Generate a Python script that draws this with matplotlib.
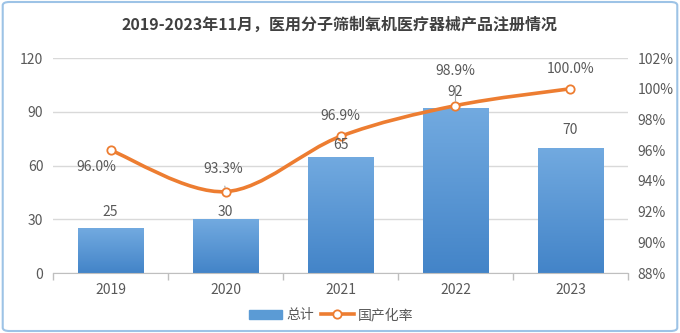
import numpy as np
import matplotlib
matplotlib.use("Agg")
import matplotlib.pyplot as plt
from matplotlib.path import Path
from matplotlib.patches import PathPatch, FancyBboxPatch
from matplotlib.lines import Line2D
from matplotlib.colors import LinearSegmentedColormap

plt.rcParams['font.family'] = ['Noto Sans CJK SC', 'DejaVu Sans']

years = ['2019', '2020', '2021', '2022', '2023']
totals = [25, 30, 65, 92, 70]
domestic_rate = [96.0, 93.3, 96.9, 98.9, 100.0]
title = '2019-2023年11月，医用分子筛制氧机医疗器械产品注册情况'

text_color = '#595959'
orange = '#ED7D31'

fig = plt.figure(figsize=(6.8, 3.33), dpi=100)
ax = fig.add_axes([0.078, 0.180, 0.8455, 0.6458])
ax2 = ax.twinx()

x = np.arange(len(years))
bars = ax.bar(x, totals, width=0.57, color='#5b9bd5', zorder=2)

# vertical gradient on each bar
cmap = LinearSegmentedColormap.from_list('bar', ['#4384c8', '#72aae0'])
grad = np.linspace(0, 1, 256).reshape(-1, 1)
for b in bars:
    b.set_alpha(0)
    x0, y0 = b.get_x(), b.get_y()
    im = ax.imshow(grad, cmap=cmap, origin='lower', aspect='auto',
                   extent=[x0, x0 + b.get_width(), y0, y0 + b.get_height()], zorder=2)
    im.set_clip_path(b)

ax.set_xlim(-0.5, len(years) - 0.5)
ax.set_ylim(0, 120)
ax.set_yticks([0, 30, 60, 90, 120])
ax.set_xticks(x)
ax.set_xticklabels(years)
ax.set_xticks(np.arange(-0.5, len(years)), minor=True)
ax.tick_params(axis='x', which='major', length=0, pad=7, labelsize=10, labelcolor=text_color)
ax.tick_params(axis='x', which='minor', length=5, color='#bfbfbf', width=1)
ax.tick_params(axis='y', length=0, pad=7, labelsize=10, labelcolor=text_color)
ax.grid(axis='y', color='#d9d9d9', lw=1, zorder=0)
ax.set_axisbelow(True)
for s in ['left', 'right', 'top']:
    ax.spines[s].set_visible(False)
    ax2.spines[s].set_visible(False)
ax.spines['bottom'].set_color('#bfbfbf')
ax2.spines['bottom'].set_visible(False)

# smoothed rate line (Bezier through data points)
ax2.set_ylim(88, 102)
ax2.set_yticks(range(88, 103, 2))
ax2.set_yticklabels([f'{t}%' for t in range(88, 103, 2)])
ax2.tick_params(axis='y', length=0, pad=7, labelsize=10, labelcolor=text_color)

pts = np.column_stack([x, domestic_rate]).astype(float)
ext = np.vstack([pts[0], pts, pts[-1]])
verts = [tuple(pts[0])]
codes = [Path.MOVETO]
for i in range(len(pts) - 1):
    p0, p1, p2, p3 = ext[i], ext[i + 1], ext[i + 2], ext[i + 3]
    c1 = p1 + (p2 - p0) / 6
    c2 = p2 - (p3 - p1) / 6
    verts += [tuple(c1), tuple(c2), tuple(p2)]
    codes += [Path.CURVE4] * 3
ax2.add_patch(PathPatch(Path(verts, codes), fill=False, edgecolor=orange, lw=2.6,
                        capstyle='round', zorder=3))
ax2.plot(x, domestic_rate, 'o', ms=6, mfc='white', mec=orange, mew=1.3, zorder=4)

# bar labels drawn on ax2 so they sit above the line
bar_offsets = [12, 5, 8, 12, 13]
for i, v in enumerate(totals):
    ax2.annotate(str(v), (x[i], v), xycoords=ax.transData, xytext=(0, bar_offsets[i]),
                 textcoords='offset points', ha='center', va='center', fontsize=10,
                 color=text_color, zorder=5)

rate_offsets = [(-10, -12), (-2, 16), (0, 15), (0, 25), (0, 14)]
for i, v in enumerate(domestic_rate):
    dx, dy = rate_offsets[i]
    leader = dict(arrowstyle='-', color='#a6a6a6', lw=0.8, shrinkA=5, shrinkB=3) if i in (1, 3) else None
    ax2.annotate(f'{v:.1f}%', (x[i], v), xytext=(dx, dy), textcoords='offset points',
                 ha='center', va='center', fontsize=10, color=text_color,
                 arrowprops=leader, zorder=5)

fig.text(0.5, 0.925, title, ha='center', va='center', fontsize=11.5, fontweight='bold',
         color='#404040')

handles = [
    plt.Rectangle((0, 0), 1, 1, color='#5b9bd5'),
    Line2D([], [], color=orange, lw=2.6, marker='o', ms=6, mfc='white', mec=orange, mew=1.3),
]
fig.legend(handles, ['总计', '国产化率'], loc='center', bbox_to_anchor=(0.487, 0.054), ncol=2,
           frameon=False, fontsize=10, labelcolor=text_color, handlelength=2.4,
           handleheight=0.6, handletextpad=0.3, columnspacing=0.5)

fig.patches.append(FancyBboxPatch((0.004, 0.006), 0.992, 0.988, boxstyle='round,pad=0,rounding_size=0.01',
                                  transform=fig.transFigure, fill=False, edgecolor='#9dc3e6', lw=1.5))

fig.savefig('out.png', dpi=100)
